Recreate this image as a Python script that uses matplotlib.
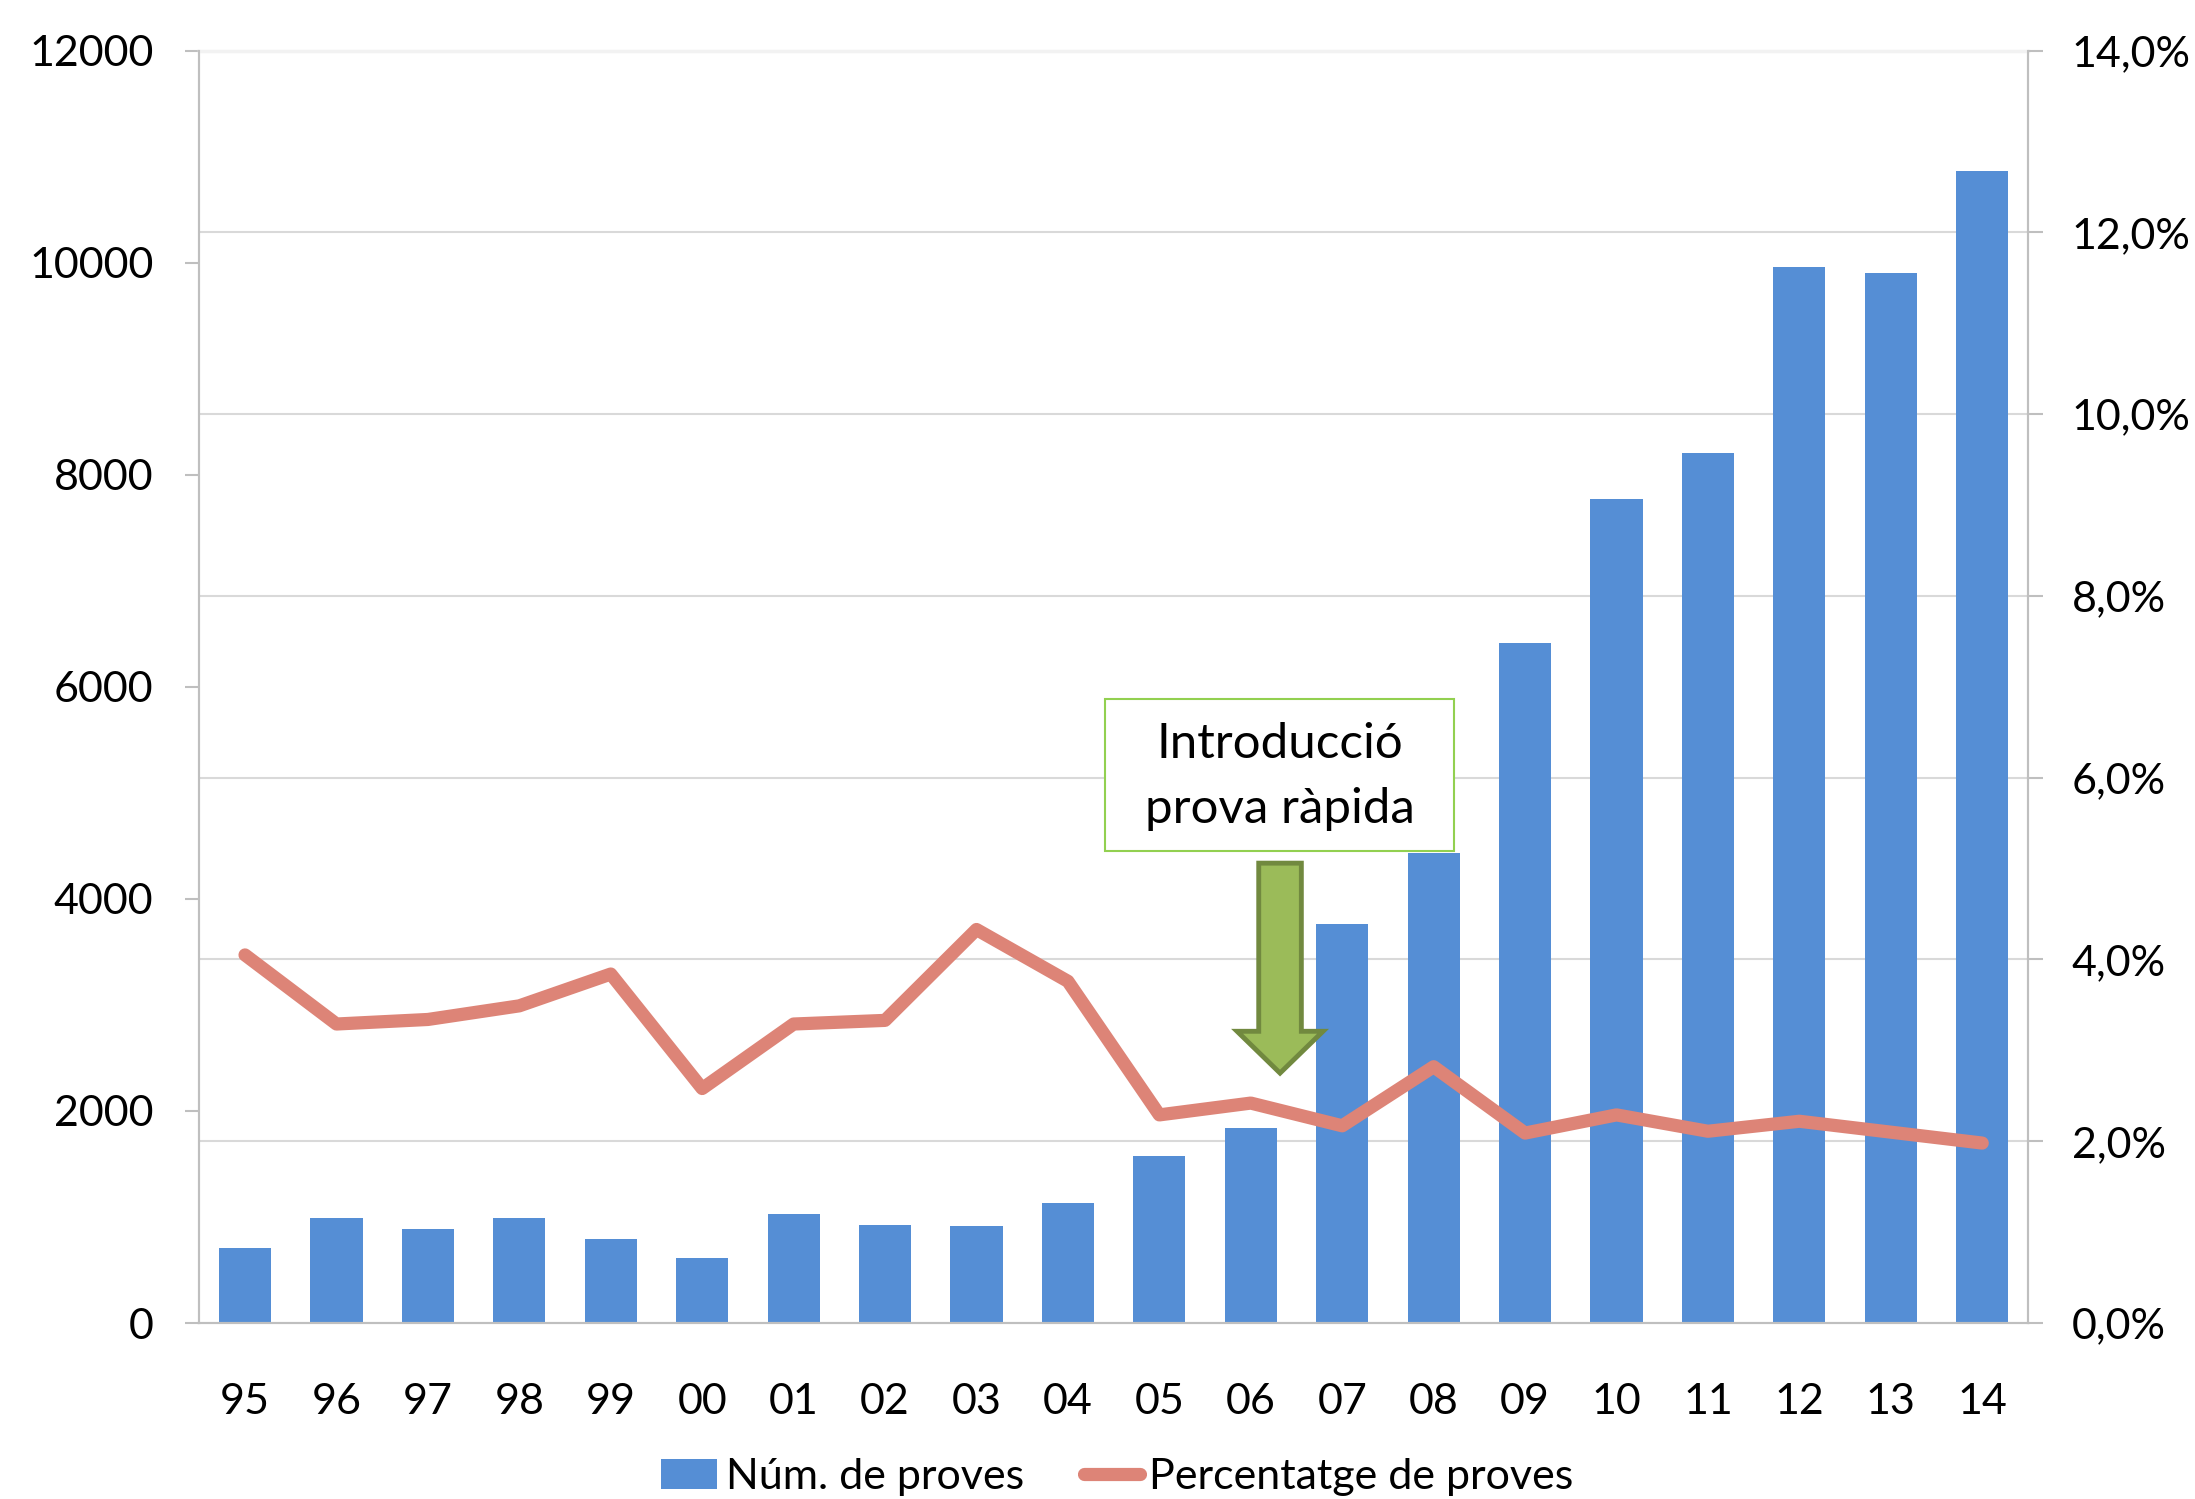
import numpy as np
import matplotlib.pyplot as plt
from matplotlib.patches import Polygon, Rectangle
from matplotlib.ticker import FuncFormatter

plt.rcParams['font.family'] = ['Lato', 'DejaVu Sans']

# Dades
anys = ['95', '96', '97', '98', '99', '00', '01', '02', '03', '04',
        '05', '06', '07', '08', '09', '10', '11', '12', '13', '14']
num_proves = [705, 988, 887, 988, 790, 616, 1025, 922, 919, 1135,
              1575, 1843, 3760, 4435, 6415, 7769, 8205, 9961, 9905, 10867]
percentatge = [4.05, 3.29, 3.34, 3.49, 3.84, 2.58, 3.29, 3.33, 4.33, 3.76,
               2.29, 2.42, 2.17, 2.82, 2.09, 2.29, 2.11, 2.22, 2.10, 1.98]

blau = '#558ED5'
vermell = '#DD8477'
gris = '#BFBFBF'
fs = 31

x = np.arange(len(anys))

fig = plt.figure(figsize=(21.95, 14.99), dpi=100)
ax = fig.add_axes([0.0908, 0.1174, 0.8331, 0.8488])
ax2 = ax.twinx()

# Barres (eix esquerre)
ax.bar(x, num_proves, width=0.57, color=blau, zorder=2, label='Núm. de proves')
ax.set_xlim(-0.5, len(anys) - 0.5)
ax.set_ylim(0, 12000)
ax.set_yticks(np.arange(0, 12001, 2000))
# graella segons l'eix de percentatges
ax.set_yticks(np.arange(0, 14.1, 2) * 12000 / 14, minor=True)
ax.yaxis.grid(True, which='minor', color='#D9D9D9', lw=1.5, zorder=0)
ax.set_axisbelow(True)
ax.set_xticks(x)
ax.set_xticklabels(anys)
ax.tick_params(axis='x', length=0, pad=43, labelsize=fs)
ax.tick_params(axis='y', which='major', direction='out', length=10, width=1.5,
               color=gris, pad=23, labelsize=fs)
ax.tick_params(axis='y', which='minor', length=0)

# Línia (eix dret)
ax2.plot(x, percentatge, color=vermell, lw=9.5, solid_capstyle='round',
         solid_joinstyle='round', zorder=3, label='Percentatge de proves')
ax2.set_ylim(0, 14)
ax2.set_yticks(np.arange(0, 14.1, 2))
ax2.yaxis.set_major_formatter(FuncFormatter(lambda v, p: f'{v:.1f}%'.replace('.', ',')))
ax2.tick_params(axis='y', direction='out', length=10.5, width=1.5, color=gris,
                pad=21, labelsize=fs)

for a in (ax, ax2):
    for s in ('left', 'right', 'bottom'):
        a.spines[s].set_color(gris)
        a.spines[s].set_linewidth(1.5)
ax2.spines['top'].set_visible(False)
ax.spines['top'].set_color('#F2F2F2')
ax.spines['top'].set_linewidth(2.5)

# Fletxa i quadre de text
xc = 11.32
fletxa = Polygon([[xc - 0.233, 5.06], [xc + 0.233, 5.06], [xc + 0.233, 3.21],
                  [xc + 0.47, 3.21], [xc, 2.75], [xc - 0.47, 3.21],
                  [xc - 0.233, 3.21]], closed=True, facecolor='#9BBB59',
                 edgecolor='#71893F', lw=3.5, joinstyle='miter', zorder=5)
ax2.add_patch(fletxa)

quadre = Rectangle((0.4953, 0.3710), 0.1908, 0.1194, transform=ax2.transAxes,
                   facecolor='white', edgecolor='#92D050', lw=1.5, zorder=6)
ax2.add_patch(quadre)
ax2.text(0.591, 0.4441, 'Introducció', transform=ax2.transAxes, ha='center',
         va='baseline', fontsize=35.5, zorder=7)
ax2.text(0.591, 0.3932, 'prova ràpida', transform=ax2.transAxes, ha='center',
         va='baseline', fontsize=35.5, zorder=7)

# Llegenda
h1, l1 = ax.get_legend_handles_labels()
h2, l2 = ax2.get_legend_handles_labels()
fig.legend(h1 + h2, l1 + l2, loc='center', bbox_to_anchor=(0.509, 0.0147),
           ncol=2, frameon=False, fontsize=fs, handlelength=1.3,
           handletextpad=0.2, columnspacing=1.4, borderpad=0)

fig.savefig('out.png', dpi=100)
